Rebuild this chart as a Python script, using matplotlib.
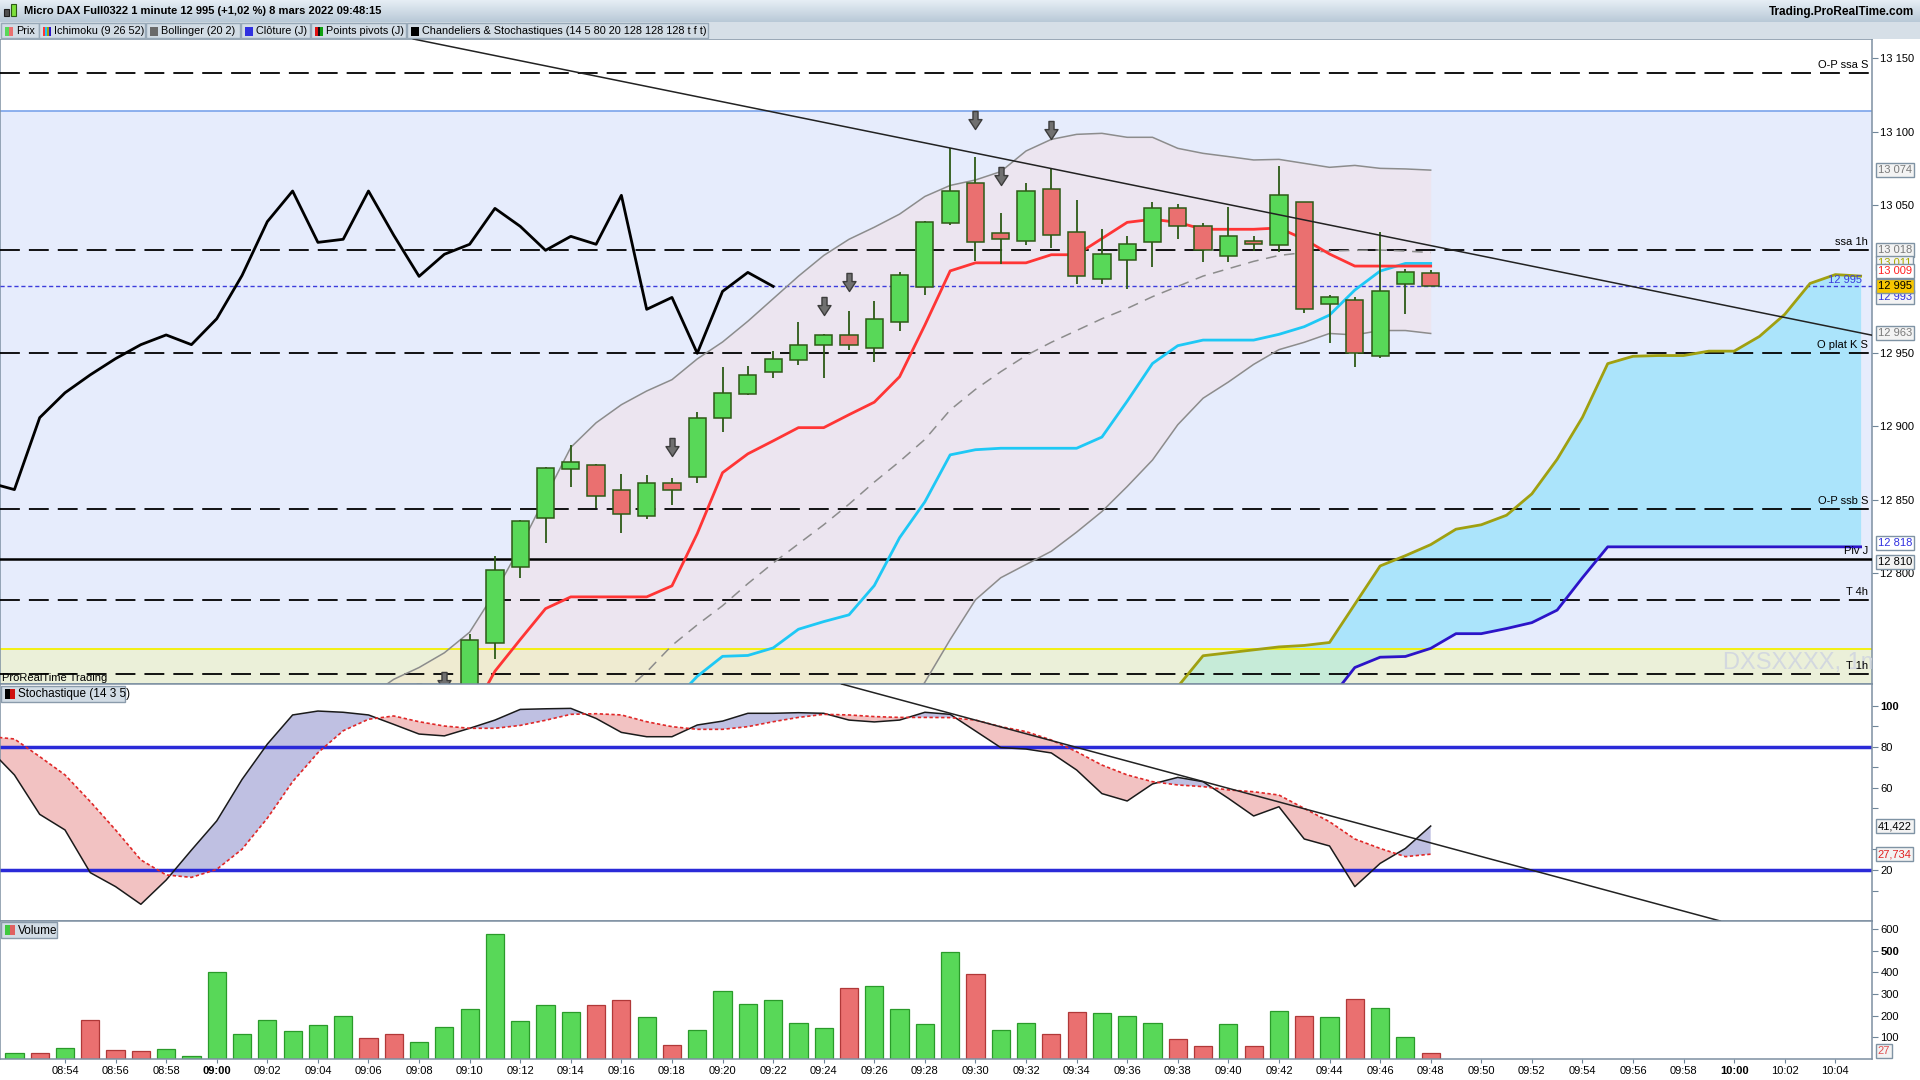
import numpy as np
import matplotlib.pyplot as plt
from matplotlib.path import Path
from matplotlib.patches import Rectangle
from matplotlib.colors import LinearSegmentedColormap

plt.rcParams['font.family'] = ['Liberation Sans', 'DejaVu Sans']

# ---- data (time = minutes after 09:00) ----
candle_t = list(range(10, 49))
opens = [12700, 12753, 12804.5, 12837.3, 12871, 12873.8, 12856.9, 12839.3, 12861.6, 12865.6,
         12905.8, 12922.1, 12937, 12945.2, 12955.4, 12962, 12953.3, 12971, 12994.3, 13037.8,
         13065, 13031, 13025.6, 13060.9, 13031.7, 12999.8, 13012.7, 13025, 13048, 13035.8,
         13015.4, 13025.6, 13022.9, 13052.1, 12982.8, 12985.5, 12947.4, 12996.4, 13003.9]
highs = [12759, 12812, 12836, 12872, 12887, 12874.5, 12867.7, 12866.9, 12865.1, 12909.9,
         12940, 12941.1, 12951.3, 12970.5, 12962.5, 12978.1, 12985.3, 13005, 13039.5, 13088.8,
         13082.7, 13044.6, 13065, 13074.5, 13053.7, 13034, 13029.3, 13052.4, 13051, 13037.8,
         13049, 13029, 13076.8, 13052.5, 12989.2, 12987.5, 13031.7, 13006.8, 13006.1]
lows = [12695, 12742, 12797, 12820.4, 12858.7, 12844.2, 12827.5, 12837, 12846.5, 12861.3,
        12896, 12921.5, 12932.9, 12941.6, 12932.9, 12951.8, 12943.6, 12964.6, 12989.1, 13037,
        13012.5, 13010, 13023.3, 13021, 12996.4, 12996.4, 12993, 13008.4, 13027.4, 13011.8,
        13011.8, 13019.3, 13018.6, 12976.7, 12956.3, 12940.4, 12946.5, 12976.5, 12995]
closes = [12755, 12802.5, 12835.7, 12871.8, 12875.9, 12852.4, 12840.6, 12861.6, 12856.9, 12905.8,
          12922.7, 12934.9, 12945.9, 12955.4, 12962, 12955.4, 12973, 13002.4, 13039, 13059.8,
          13024.9, 13027, 13059.8, 13029.7, 13001.8, 13016.8, 13023.6, 13048, 13035.8, 13019.5,
          13029, 13023.6, 13056.9, 12979.4, 12987.5, 12949.5, 12991.6, 13004.5, 12995]

tenkan_t = list(range(10, 49))
tenkan = [12702, 12733.5, 12755, 12776, 12784, 12784, 12784, 12784, 12791.5, 12827,
          12868.4, 12881.2, 12890, 12899, 12899, 12907.8, 12916.3, 12933.6, 12968.7, 13005.5,
          13011, 13011, 13011, 13016.5, 13016.5, 13027.5, 13038.5, 13040.6, 13038.5, 13033.8,
          13033.8, 13033.8, 13034.7, 13027, 13017, 13008.8, 13008.8, 13008.8, 13008.8]
kijun_t = list(range(18, 49))
kijun = [12712, 12730,
         12743.6, 12744.2, 12749.3, 12762, 12767.2, 12771.8, 12791.7, 12824.2, 12848.6, 12880.5,
         12884, 12885, 12885, 12885, 12885, 12892.6, 12917, 12942.6, 12954.7, 12958.5,
         12958.5, 12958.5, 12962.4, 12967.6, 12975.5, 12992.5, 13005.4, 13010.6, 13010.6]
senkou_t = list(range(38, 66))
senkou_a = [12723, 12744, 12746, 12748, 12750, 12751, 12753, 12779, 12805, 12812,
            12819.5, 12830, 12833, 12839.5, 12854, 12877.5, 12906, 12942.5, 12947.5, 12948,
            12948, 12951, 12951, 12961, 12976, 12997, 13003, 13002]
senkou_b = [None, None, None, None, None, None, 12714, 12736, 12743, 12743.5,
            12749, 12759, 12759, 12762.5, 12766.5, 12775, 12797, 12818, 12818, 12818,
            12818, 12818, 12818, 12818, 12818, 12818, 12818, 12818]

bb_t = list(range(6, 49))
bb_upper = [12716, 12728, 12736, 12746,
            12760, 12787, 12818, 12852, 12885.6, 12902.3, 12914.6, 12923.9, 12931.6, 12945.7,
            12957.2, 12971.3, 12986.6, 13001.9, 13016, 13027, 13035.2, 13044.1, 13056.1, 13063.6,
            13067.3, 13073, 13087, 13094.9, 13098.3, 13099, 13096.3, 13096.3, 13088.8, 13085.4,
            13083.2, 13080.9, 13081.3, 13078.6, 13075.9, 13077.2, 13075.2, 13074.8, 13074]
bb_mid = [None] * 10 + [12718, 12733, 12751, 12765,
          12778, 12793, 12807, 12820, 12833, 12847, 12862, 12876, 12891, 12911,
          12925, 12937, 12948, 12957, 12965, 12973, 12980, 12988, 12995, 13002,
          13007, 13012, 13016, 13018, 13019, 13019.5, 13019.7, 13019, 13018]
bb_lower = [None] * 21 + [12700, 12726, 12755,
            12782, 12797, 12806, 12815, 12828, 12842, 12859, 12877, 12901, 12919,
            12930, 12942, 12952, 12957, 12963, 12962, 12965, 12965, 12963]

arrow_t = [7, 8, 9, 18, 24, 25, 30, 31, 33]
arrow_p = [12719, 12719, 12727, 12886, 12982, 12998, 13108, 13070, 13101]

level_prices = [13140, 13020, 12950, 12844, 12782, 12731.6]
level_names = ['O-P ssa S', 'ssa 1h', 'O plat K S', 'O-P ssb S', 'T 4h', 'T 1h']
pivot_price = 12810
last_price = 12995
zone_top = 13114
zone_yellow = 12748.3
trend_price = [(7.8, 13163), (65.4, 12962)]

stoch_t = list(range(-9, 49))
stoch_k = [79, 66.3, 47.1, 39.5, 18.7, 11.9, 3.3, 15.1, 29.7, 43.9,
           64.1, 81.3, 95.5, 97.4, 96.8, 95.5, 90.9, 86.2, 85.3, 89,
           93.0, 98.2, 98.5, 98.7, 93.8, 87.0, 84.9, 84.9, 90.6, 92.5,
           96.3, 96.3, 96.6, 96.3, 93.0, 92.1, 93.0, 96.8, 95.8, 87.7,
           79.6, 78.9, 77.0, 68.7, 57.2, 53.6, 61.9, 65.1, 63.0, 54.9,
           46.3, 50.8, 35.1, 31.7, 11.9, 23.2, 30.5, 41.4]
stoch_d = [85, 83.8, 75.2, 66.3, 53.3, 39.5, 24.9, 17.6, 16.4, 20.3,
           30.1, 45.2, 63, 77.1, 87.8, 93.4, 95, 92.2, 90.1, 89,
           89.0, 90.4, 92.9, 95.8, 96.1, 95.5, 92.2, 89.8, 88.5, 88.5,
           89.8, 92.2, 94.3, 95.8, 95.5, 94.7, 94.3, 94.3, 94.2, 93.0,
           89.8, 87.4, 83.3, 77.6, 71.1, 66.3, 63.0, 61.4, 60.6, 59.0,
           58.1, 56.5, 50.0, 43.5, 35.1, 30.5, 26.5, 27.7]
trend_stoch = [(24.85, 110.1), (59.5, -5.0)]

vol_t = list(range(-8, 49))
volumes = [26, 26, 49, 180, 40, 35, 45, 12, 400, 114, 180, 128, 155, 197, 95, 114, 77, 146, 229,
           575, 174, 248, 215, 248, 271, 192, 63, 132, 312, 252, 271, 165, 142, 326, 335, 229,
           160, 492, 391, 132, 165, 114, 215, 211, 197, 165, 91, 58, 160, 58, 220, 197, 192,
           275, 234, 100, 27]
vol_dir = list("grgrrrggggggggrrgggggggrrgrggggggrggggrggrrgggrrgrgrgrggr")

x_ticks = list(range(-6, 65, 2))

W, H = 1920, 1080
GREEN, RED, EDGE = '#58d858', '#ea7070', '#2d5a16'

fig = plt.figure(figsize=(19.2, 10.8), dpi=100)
fig.patch.set_facecolor('white')

x_left, x_right = -8.57, 65.45
ax_r = 1872 / W


def panel(top_px, bot_px):
    return fig.add_axes([0, 1 - bot_px / H, ax_r, (bot_px - top_px) / H])


ax = panel(39, 684)
ax2 = panel(684, 921)
ax3 = panel(921, 1059)

for a in (ax, ax2, ax3):
    a.set_xlim(x_left, x_right)
    a.yaxis.tick_right()
    a.tick_params(axis='y', which='both', length=4, pad=2, labelsize=8, color='#6f8598')
    a.tick_params(axis='x', bottom=False, labelbottom=False)
    for s in a.spines.values():
        s.set_color('#7d90a2')
        s.set_linewidth(1.1)
    a.set_facecolor('white')

# ---- price panel ----
p_lo, p_hi = 12724.8, 13163.1
ax.set_ylim(p_lo, p_hi)
ax.axhspan(p_lo - 50, zone_top, color='#e6ecfc', zorder=0, lw=0)
ax.axhline(zone_top, color='#7aa3ea', lw=1.2, zorder=2.5)

bt = np.array(bb_t)
up_b = np.array(bb_upper, dtype=float)
mid_b = np.array(bb_mid, dtype=float)
low_b = np.array(bb_lower, dtype=float)
ax.fill_between(bt, up_b, np.where(np.isnan(low_b), p_lo - 30, low_b), color='#ece5f0', zorder=1, lw=0)

st = np.array(senkou_t)
sa = np.array(senkou_a, dtype=float)
sb = np.array(senkou_b, dtype=float)
ax.fill_between(st, sa, np.where(np.isnan(sb), p_lo - 30, sb), color='#abe4fb', zorder=1.5, lw=0)

ax.axhspan(p_lo - 50, zone_yellow, color='#f4f7a0', alpha=0.38, zorder=2, lw=0)
ax.axhline(zone_yellow, color='#f4f000', lw=1.3, zorder=2.5)

for y, name in zip(level_prices, level_names):
    ax.axhline(y, color='black', lw=1.3, ls=(0, (11, 5)), zorder=3)
    ax.annotate(name, xy=(0.998, y), xycoords=('axes fraction', 'data'), xytext=(0, 2),
                textcoords='offset points', ha='right', va='bottom', fontsize=8, zorder=8)
ax.axhline(pivot_price, color='black', lw=1.8, zorder=3)
ax.annotate('Piv J', xy=(0.998, pivot_price), xycoords=('axes fraction', 'data'), xytext=(0, 2),
            textcoords='offset points', ha='right', va='bottom', fontsize=8, zorder=8)
ax.axhline(last_price, color='#3c3cdc', lw=1, ls=(0, (3, 2)), zorder=3)
ax.annotate('12 995', xy=(0.9947, last_price), xycoords=('axes fraction', 'data'), xytext=(0, 1),
            textcoords='offset points', ha='right', va='bottom', fontsize=8, color='#3c3cdc', zorder=8)

ax.text(1723 / 1872, 12739, 'DXSXXXX, 1m', transform=ax.get_yaxis_transform(), fontsize=17,
        color='#d3d8df', va='center', ha='left', zorder=2.6, clip_on=True)
ax.text(0.001, p_lo + 1, 'ProRealTime Trading', transform=ax.get_yaxis_transform(), fontsize=8,
        va='bottom', ha='left', zorder=9)

ax.plot(bt, up_b, color='#8c8c8c', lw=1.1, zorder=4)
ax.plot(bt, low_b, color='#8c8c8c', lw=1.1, zorder=4)
ax.plot(bt, mid_b, color='#8c8c8c', lw=1.1, ls=(0, (7, 5)), zorder=4)
ax.plot(st, sa, color='#a0a010', lw=2, zorder=4)
ax.plot(st, sb, color='#2c14c8', lw=2, zorder=4)
ax.plot(kijun_t, kijun, color='#1ec8f5', lw=2, zorder=4.2)
ax.plot(tenkan_t, tenkan, color='#ff3535', lw=2, zorder=4.3)
ax.plot(np.array(candle_t) - 26, closes, color='black', lw=2, zorder=4.4)

o, h, l, c = (np.array(v, dtype=float) for v in (opens, highs, lows, closes))
ct = np.array(candle_t)
ax.vlines(ct, l, h, color=EDGE, lw=1.3, zorder=5)
ax.bar(ct, np.maximum(np.abs(c - o), 0.6), bottom=np.minimum(o, c), width=0.68,
       color=np.where(c >= o, GREEN, RED), edgecolor=EDGE, lw=1.1, zorder=6)

arrow_path = Path([(-0.28, 1), (0.28, 1), (0.28, 0.1), (0.72, 0.1), (0, -1), (-0.72, 0.1),
                   (-0.28, 0.1), (-0.28, 1)], closed=True)
ax.plot(arrow_t, arrow_p, ls='none', marker=arrow_path, ms=13, mfc='#707070', mec='#3c3c3c',
        mew=1, zorder=7)
ax.axline(*trend_price, color='#222222', lw=1.1, zorder=7)

price_ticks = [12800, 12850, 12900, 12950, 13050, 13100, 13150]
ax.set_yticks(price_ticks)
ax.set_yticklabels([f"{v:,}".replace(',', ' ') for v in price_ticks])


def side_box(a, y, text, color, face='#f3f3f3'):
    a.text(1.003, y, text, transform=a.get_yaxis_transform(), ha='left', va='center',
           fontsize=8, color=color, zorder=10, clip_on=False,
           bbox=dict(boxstyle='square,pad=0.18', fc=face, ec='#7f93a4', lw=1))


side_box(ax, 13074, '13 074', '#7a7a7a')
side_box(ax, 13019.7, '13 018', '#7a7a7a')
side_box(ax, 13011, '13 011', '#a8a800')
side_box(ax, 13005.4, '13 009', '#ff2020', 'white')
side_box(ax, 12988, '12 993', '#3030e0')
side_box(ax, 12995.5, '12 995', 'black', '#f7c600')
side_box(ax, 12963, '12 963', '#7a7a7a')
side_box(ax, 12820.5, '12 818', '#3030e0', 'white')
side_box(ax, 12807.5, '12 810', 'black')

# ---- stochastic panel ----
ax2.set_ylim(-4.84, 110.57)
k = np.array(stoch_k)
d = np.array(stoch_d)
ax2.fill_between(stoch_t, k, d, where=k >= d, interpolate=True, color='#bfc0e2', lw=0, zorder=1)
ax2.fill_between(stoch_t, k, d, where=k < d, interpolate=True, color='#f2c2c2', lw=0, zorder=1)
ax2.axhline(80, color='#2a2ad8', lw=2.5, zorder=2)
ax2.axhline(20, color='#2a2ad8', lw=2.5, zorder=2)
ax2.plot(stoch_t, k, color='#1a1a1a', lw=1.1, zorder=3)
ax2.plot(stoch_t, d, color='#e02828', lw=1.2, ls=(0, (2, 1.5)), zorder=3)
ax2.axline(*trend_stoch, color='#222222', lw=1.1, zorder=4)
ax2.set_yticks([10, 20, 30, 50, 60, 70, 80, 90, 100])
ax2.set_yticklabels(['', '20', '', '', '60', '', '80', '', '100'])
ax2.get_yticklabels()[-1].set_fontweight('bold')
side_box(ax2, 41.4, '41,422', 'black')
side_box(ax2, 27.7, '27,734', '#e02020')

# ---- volume panel ----
ax3.set_ylim(0, 637)
vcol = [GREEN if v == 'g' else RED for v in vol_dir]
vedge = ['#2a9a2a' if v == 'g' else '#b03838' for v in vol_dir]
ax3.bar(vol_t, volumes, width=0.72, color=vcol, edgecolor=vedge, lw=0.9, zorder=2)
ax3.set_yticks([100, 200, 300, 400, 500, 600])
ax3.get_yticklabels()[4].set_fontweight('bold')
side_box(ax3, 38, '27', '#e05050')

ax3.tick_params(axis='x', bottom=True, labelbottom=True, length=3, pad=2, labelsize=8, color='#6f8598')
ax3.set_xticks(x_ticks)
ax3.set_xticklabels([f"{(540 + m) // 60:02d}:{(540 + m) % 60:02d}" for m in x_ticks])
for lab in ax3.get_xticklabels():
    if lab.get_text().endswith(':00'):
        lab.set_fontweight('bold')

# ---- overlay in pixel units: header and panel tags ----
ov = fig.add_axes([0, 0, 1, 1], facecolor='none')
ov.set_xlim(0, W)
ov.set_ylim(H, 0)
ov.axis('off')

cm = LinearSegmentedColormap.from_list('hdr', ['#e6eef5', '#b9c9d7'])
ov.imshow(np.linspace(0, 1, 40).reshape(-1, 1), extent=[0, W, 22, 0], cmap=cm, aspect='auto', zorder=0)
ov.set_xlim(0, W)
ov.set_ylim(H, 0)
ov.add_patch(Rectangle((0, 22), W, 17, fc='#d6dfe7', ec='none', zorder=0))
ov.add_patch(Rectangle((4, 9), 5, 7, fc='#505050', ec='#202020', lw=0.8, zorder=1))
ov.add_patch(Rectangle((11, 4), 5, 12, fc='#7de03a', ec='#2d5a16', lw=0.8, zorder=1))
ov.text(24, 11.5, 'Micro DAX Full0322 1 minute 12 995 (+1,02 %) 8 mars 2022 09:48:15',
        fontsize=8, fontweight='bold', va='center', ha='left')
ov.text(1914, 11.5, 'Trading.ProRealTime.com', fontsize=8.5, fontweight='bold', va='center', ha='right')

legend_items = [('Prix', 1, 39, ['#58d858', '#ea7070']),
                ('Ichimoku (9 26 52)', 39, 145, ['#ff3535', '#1ec8f5', '#a0a010', '#2c14c8']),
                ('Bollinger (20 2)', 146, 240, ['#6a6a6a']),
                ('Clôture (J)', 241, 310, ['#3030e0']),
                ('Points pivots (J)', 311, 406, ['#e01010', '#101010', '#10a010']),
                ('Chandeliers & Stochastiques (14 5 80 20 128 128 128 t f t)', 407, 708, ['#000000'])]
for name, x0, x1, cols in legend_items:
    ov.add_patch(Rectangle((x0, 23), x1 - x0, 15, fc='#d2dce5', ec='#98a9b8', lw=1, zorder=1))
    wsw = 8 / len(cols)
    for i, col in enumerate(cols):
        ov.add_patch(Rectangle((x0 + 4 + i * wsw, 26.5), wsw, 9, fc=col, ec='none', zorder=2))
    ov.text(x0 + 15, 31, name, fontsize=7.8, va='center', ha='left', zorder=3)

panel_tags = [('Stochastique (14 3 5)', 686, 125, ['#000000', '#d01010']),
              ('Volume', 922, 57, ['#40c840', '#e06060'])]
for name, y0, x1, cols in panel_tags:
    ov.add_patch(Rectangle((1, y0), x1 - 1, 16, fc='#d2dce5', ec='#8a9bab', lw=1, zorder=1))
    for i, col in enumerate(cols):
        ov.add_patch(Rectangle((5 + i * 5, y0 + 3), 5, 10, fc=col, ec='none', zorder=2))
    ov.text(18, y0 + 8.5, name, fontsize=8.5, va='center', ha='left', zorder=3)

fig.savefig('out.png', dpi=100)
